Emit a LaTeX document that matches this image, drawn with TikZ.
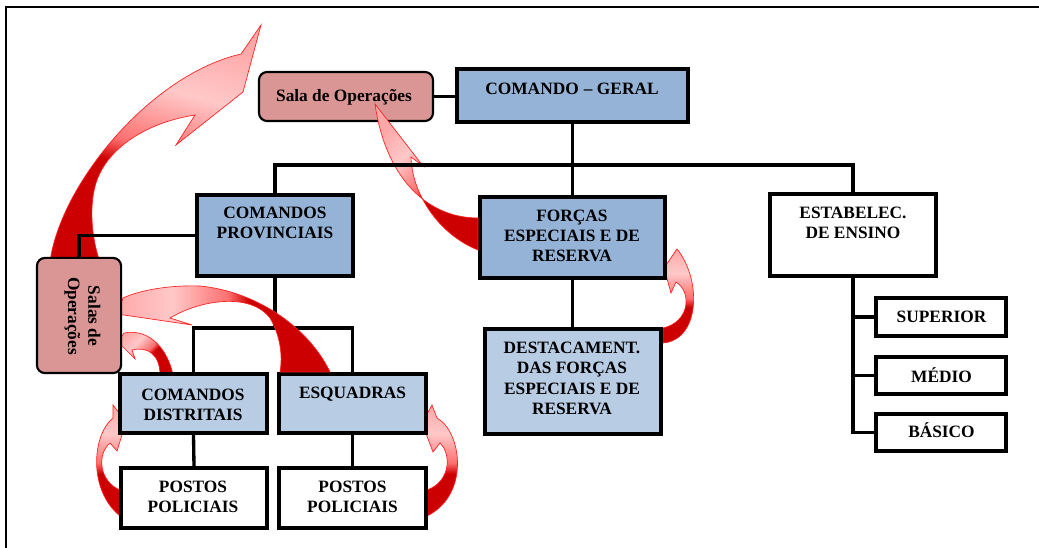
\documentclass[tikz,border=0pt]{standalone}
\usepackage{fontspec}
\setmainfont{Liberation Serif}
\usetikzlibrary{fit}
\definecolor{cblue}{HTML}{95B3D7}
\definecolor{clight}{HTML}{B8CCE4}
\definecolor{cpink}{HTML}{D99694}
\definecolor{adark}{HTML}{CC0000}
\definecolor{amid}{HTML}{FF7070}
\definecolor{alight}{HTML}{FFC8C8}
\definecolor{apink}{HTML}{FFA8A8}
\definecolor{aline}{HTML}{FF2020}
\pgfdeclareverticalshading{redshade}{100bp}{color(0bp)=(adark); color(44bp)=(adark); color(49bp)=(amid); color(62bp)=(alight); color(75bp)=(apink); color(100bp)=(apink)}
\tikzset{
  box/.style={draw=black, line width=2.5pt, inner sep=0pt, rectangle},
  bluebox/.style={box, fill=cblue},
  lightbox/.style={box, fill=clight},
  whitebox/.style={box, fill=white},
  pinkround/.style={draw=black, line width=1.6pt, inner sep=0pt, rectangle, rounded corners=6pt, fill=cpink},
  lbl/.style={font=\bfseries\fontsize{13}{15.2}\selectfont, align=center, inner sep=0pt},
  conn/.style={line width=2.5pt},
  redarr/.style={shading=redshade, draw=aline, line width=0.5pt}
}
\begin{document}
\begin{tikzpicture}[x=0.75pt, y=-0.75pt]
\useasboundingbox (0,0) rectangle (1039,548);
\fill[white] (0,0) rectangle (1039,548);
% frame
\draw[line width=1.1pt] (6,548) -- (6,7) -- (1039,7);

% arrows behind boxes
% big arrow from Salas upward
\shadedraw[redarr, shading angle=-15] (50,262) .. controls (60,185) and (150,75) .. (241,54)
  -- (261,25) -- (243,92) -- (176,145) -- (195,115)
  .. controls (150,122) and (110,145) .. (97,180)
  .. controls (88,205) and (92,240) .. (100,262) -- cycle;
% Destacament -> Forcas
\shadedraw[redarr, shading angle=0] (663,343) .. controls (700,340) and (702,280) .. (677,249)
  -- (664,268) -- (671,293) -- (676,282)
  .. controls (692,292) and (690,322) .. (663,328) -- cycle;
% Distritais -> Salas (small)
\shadedraw[redarr, shading angle=45] (173,375) .. controls (168,350) and (150,328) .. (124,333)
  -- (118,342) -- (135,359) -- (132,350)
  .. controls (148,346) and (160,355) .. (160,375) -- cycle;
% Postos 1 -> Distritais
\shadedraw[redarr, shading angle=0] (120,490) .. controls (100,482) and (96,455) .. (110,443)
  -- (117,451) -- (126,422) -- (113,405) -- (113,418)
  .. controls (92,435) and (88,490) .. (120,516) -- cycle;
% Postos 2 -> Esquadras
\shadedraw[redarr, shading angle=0] (427,490) .. controls (450,482) and (452,455) .. (440,443)
  -- (433,452) -- (422,423) -- (432,405) -- (437,418)
  .. controls (462,432) and (470,495) .. (427,516) -- cycle;

% boxes
\node[pinkround, fit={(259,72) (433,121)}] (sala) {};
\node[bluebox, line width=3.6pt, fit={(457,69) (688,122)}] (cg) {};
\node[bluebox, fit={(197,195) (353,276)}] (prov) {};
\node[bluebox, fit={(480,197) (665,278)}] (forcas) {};
\node[lightbox, fit={(485,329) (661,434)}] (dest) {};
\node[whitebox, fit={(770,194) (936,276)}] (estab) {};
\node[whitebox, fit={(876,298) (1006,336)}] (sup) {};
\node[whitebox, fit={(876,357) (1006,394)}] (med) {};
\node[whitebox, fit={(876,414) (1006,451)}] (bas) {};
\node[pinkround, fit={(38,259) (120,372)}] (salas) {};

% connectors (lower part, under the Esquadras arrow)
\coordinate (pb) at (275,328);
\draw[conn] (prov.west) -| (salas.north);
\draw[conn] (prov.south) -- (pb);
\draw[conn] (sala.east) -- (sala.east -| cg.west);
\draw[conn] (forcas.south) -- (forcas.south |- dest.north);
\draw[conn] (estab.south) |- (bas.west);
\draw[conn] (estab.south |- sup.west) -- (sup.west);
\draw[conn] (estab.south |- med.west) -- (med.west);

\node[lightbox, fit={(120,374) (267,433)}] (dist) {};
\node[lightbox, fit={(279,374) (426,433)}] (esq) {};
\node[whitebox, fit={(121,468) (267,528)}] (pp1) {};
\node[whitebox, fit={(279,468) (426,528)}] (pp2) {};
\draw[conn] (dist.north) |- (pb) -| (esq.north);
\draw[conn] (dist.south) -- (pp1.north);
\draw[conn] (esq.south) -- (pp2.north);

% Esquadras -> Salas (over connectors)
\shadedraw[redarr, shading angle=90] (330,372) .. controls (310,330) and (260,292) .. (200,286)
  .. controls (170,285) and (140,290) .. (123,298)
  -- (117,314) -- (192,325) -- (170,318)
  .. controls (200,300) and (250,292) .. (270,318)
  .. controls (280,335) and (283,355) .. (280,372) -- cycle;
\draw[line width=1.6pt, fill=cpink, rounded corners=6pt] (salas.north west) rectangle (salas.south east);

% Forcas -> Sala (over the Sala box)
\shadedraw[redarr, shading angle=45] (375,104) -- (423,166) -- (411,157)
  .. controls (412,195) and (440,235) .. (478,250) -- (478,218)
  .. controls (425,218) and (385,175) .. (375,104) -- cycle;

% top bus
\coordinate (bus) at (572,165);
\draw[conn] (prov.north) |- (bus) -| (estab.north);
\draw[conn] (cg.south) -- (forcas.north);

% texts
\node[lbl, anchor=base] (t-sala) at (344,102) {Sala de Operações};
\node[lbl, anchor=base] (t-cg) at (572,94.7) {COMANDO\hspace{0.3em}– GERAL};
\node[lbl] (t-prov) at (275,223) {COMANDOS\\PROVINCIAIS};
\node[lbl] (t-forcas) at (572,236) {FORÇAS\\ESPECIAIS E DE\\RESERVA};
\node[lbl] (t-dest) at (572,378.5) {DESTACAMENT.\\DAS FORÇAS\\ESPECIAIS E DE\\RESERVA};
\node[lbl] (t-estab) at (853,223) {ESTABELEC.\\DE ENSINO};
\node[lbl, anchor=base] (t-sup) at (941.5,322.7) {SUPERIOR};
\node[lbl, anchor=base] (t-med) at (941.5,382.4) {MÉDIO};
\node[lbl, anchor=base] (t-bas) at (941.5,437.4) {BÁSICO};
\node[lbl] (t-dist) at (193,404.5) {COMANDOS\\DISTRITAIS};
\node[lbl, anchor=base] (t-esq) at (352.5,398.7) {ESQUADRAS};
\node[lbl] (t-pp1) at (193,497) {POSTOS\\POLICIAIS};
\node[lbl] (t-pp2) at (352.5,497) {POSTOS\\POLICIAIS};
\node[lbl, rotate=-90] (t-salas) at (82.5,316) {Salas de\\Operações};
\end{tikzpicture}
\end{document}
